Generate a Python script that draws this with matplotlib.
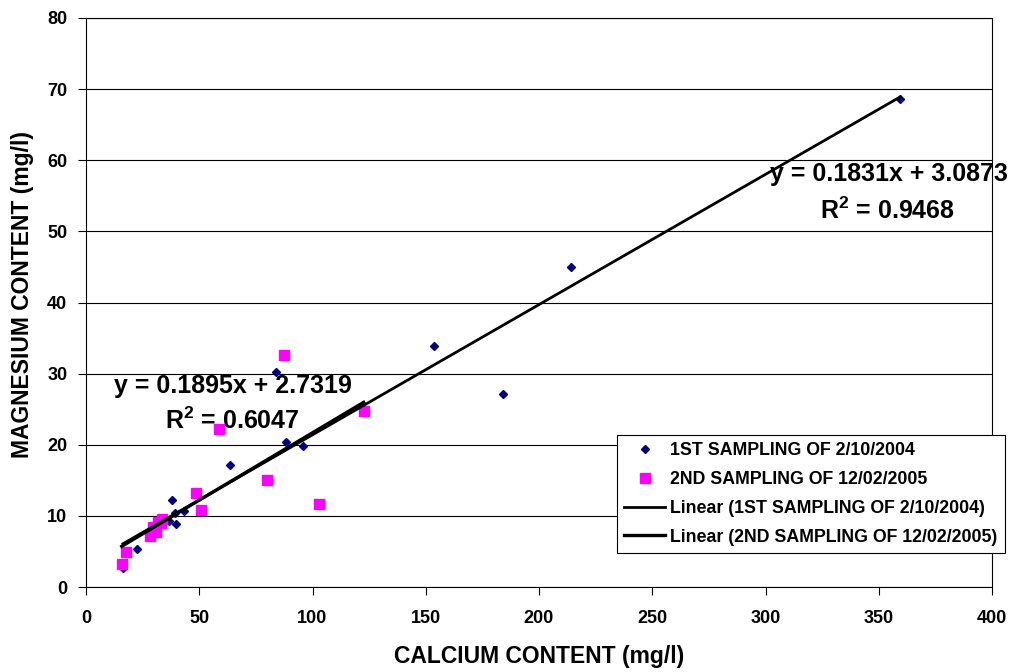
import numpy as np
import matplotlib
matplotlib.use("Agg")
import matplotlib.pyplot as plt

plt.rcParams['font.family'] = ['Liberation Sans', 'DejaVu Sans']
plt.rcParams['mathtext.fontset'] = 'custom'
plt.rcParams['mathtext.rm'] = 'Liberation Sans'
plt.rcParams['mathtext.bf'] = 'Liberation Sans:bold'
plt.rcParams['mathtext.default'] = 'bf'

# Series 1: 1ST SAMPLING OF 2/10/2004
ca1 = [16.3, 22.5, 36.8, 38.0, 39.3, 39.7, 43.4, 63.6, 83.9, 88.3, 95.8, 153.5, 184.0, 214.0, 359.5]
mg1 = [2.7, 5.3, 9.3, 12.2, 10.4, 8.9, 10.7, 17.2, 30.2, 20.4, 19.8, 33.9, 27.1, 45.0, 68.6]

# Series 2: 2ND SAMPLING OF 12/02/2005
ca2 = [15.8, 17.5, 28.3, 29.7, 30.9, 31.9, 33.1, 33.7, 48.6, 50.6, 58.6, 79.8, 87.4, 103.0, 122.6]
mg2 = [3.3, 4.9, 7.2, 8.5, 7.8, 9.2, 9.0, 9.5, 13.2, 10.8, 22.2, 15.0, 32.6, 11.6, 24.8]

# Trendline coefficients as printed on the chart
slopes = [0.1831, 0.1895]
intercepts = [3.0873, 2.7319]
r2 = [0.9468, 0.6047]

labels = ["1ST SAMPLING OF 2/10/2004", "2ND SAMPLING OF 12/02/2005"]
xticks = [0, 50, 100, 150, 200, 250, 300, 350, 400]
yticks = [0, 10, 20, 30, 40, 50, 60, 70, 80]

W, H = 1013, 672
L, R, T, B = 86, 992, 18, 587
fig = plt.figure(figsize=(W/100, H/100), dpi=100)
ax = fig.add_axes([L/W, 1 - B/H, (R-L)/W, (B-T)/H])

ax.set_xlim(0, 400)
ax.set_ylim(0, 80)
ax.set_xticks(xticks)
ax.set_yticks(yticks)
ax.yaxis.grid(True, color='black', linewidth=0.8)
ax.set_axisbelow(True)
for s in ax.spines.values():
    s.set_color('black')
    s.set_linewidth(0.8)
ax.tick_params(direction='out', length=5.5, width=0.8, labelsize=13)
ax.tick_params(axis='x', pad=11)
ax.tick_params(axis='y', pad=8)
for lab in ax.get_xticklabels() + ax.get_yticklabels():
    lab.set_fontweight('bold')

h1, = ax.plot(ca1, mg1, linestyle='none', marker='D', markersize=4.5,
              color='#000080', label=labels[0], zorder=3)
h2, = ax.plot(ca2, mg2, linestyle='none', marker='s', markersize=6.5,
              color='#FF00FF', label=labels[1], zorder=3)

xs1 = np.array([min(ca1), max(ca1)])
xs2 = np.array([min(ca2), max(ca2)])
l1, = ax.plot(xs1, slopes[0] * xs1 + intercepts[0], color='black', linewidth=2.0,
              label="Linear (" + labels[0] + ")", zorder=4)
l2, = ax.plot(xs2, slopes[1] * xs2 + intercepts[1], color='black', linewidth=2.4,
              label="Linear (" + labels[1] + ")", zorder=4)

ax.set_xlabel("CALCIUM CONTENT (mg/l)", fontsize=16.5, fontweight='bold', va='baseline')
ax.xaxis.set_label_coords(0.5, (B - 663) / (B - T))
ax.set_ylabel("MAGNESIUM CONTENT (mg/l)", fontsize=16.5, fontweight='bold', va='center')
ax.yaxis.set_label_coords((23 - L) / (R - L), (B - 294) / (B - T))

eq_kw = dict(fontsize=18, fontweight='bold', ha='center', va='center', zorder=5,
             clip_on=False)
ax.text(354.3, 58.1, "y = %.4fx + %.4f" % (slopes[0], intercepts[0]), **eq_kw)
ax.text(354.0, 52.9, "R$^{2}$ = %.4f" % r2[0], **eq_kw)
ax.text(65.0, 28.2, "y = %.4fx + %.4f" % (slopes[1], intercepts[1]), **eq_kw)
ax.text(64.7, 23.3, "R$^{2}$ = %.4f" % r2[1], **eq_kw)

leg = fig.legend(handles=[h1, h2, l1, l2], loc='upper left',
                 bbox_to_anchor=(617/W, 1 - 435/H), frameon=True,
                 fancybox=False, edgecolor='black', framealpha=1,
                 prop={'weight': 'bold', 'size': 12.8}, handlelength=2.3,
                 borderpad=0.42, borderaxespad=0, labelspacing=0.66,
                 handletextpad=0.25)
leg.get_frame().set_linewidth(0.8)

fig.savefig("out.png", dpi=100)
